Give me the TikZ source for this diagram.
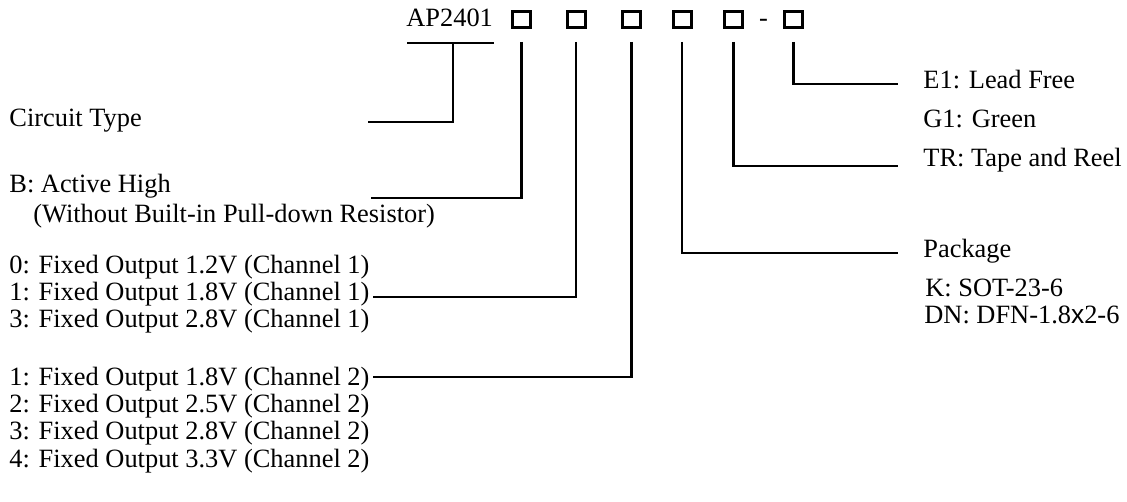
\documentclass[tikz,border=0pt]{standalone}
\usepackage{fontspec}
\setmainfont{Liberation Serif}
\setsansfont{Liberation Sans}
\begin{document}
\begin{tikzpicture}[x=0.5pt, y=-0.5pt,
		txt/.style={anchor=base west, inner sep=0pt, font=\fontsize{13.2}{15}\selectfont},
		digit/.style={draw, line width=1.5pt, minimum width=9pt, minimum height=8pt, inner sep=0pt},
		lead/.style={line width=1.3pt}]
			\useasboundingbox (0,0) rectangle (1127,502);
			% Part number with code boxes
			\node[txt] (ap) at (406,27) {AP2401};
			\foreach \n/\xx in {1/521.5, 2/576, 3/631.5, 4/682, 5/733.5, 6/793.5}
			\node[digit] (b\n) at (\xx,19.5) {};
			\node[txt, anchor=base] (dash) at (763.5,27) {-};
			
			% Level where the lead lines start
			\coordinate (top) at (0,42);
			\coordinate (apl) at (407,43);
			\coordinate (apr) at (494,43);
			\coordinate (apm) at (453,43);
			
			% Free ends of the lead lines
			\coordinate (ctend) at (368,122);
			\coordinate (bend) at (371,198);
			\coordinate (ch1end) at (373,297);
			\coordinate (ch2end) at (373,377);
			\coordinate (pkgend) at (898,253);
			\coordinate (trend) at (898,166);
			\coordinate (e1end) at (898,84);
			
			\draw[lead] (apl) -- (apr);
			\draw[lead] (apm) |- (ctend);
			\draw[lead] (b1 |- top) |- (bend);
			\draw[lead] (b2 |- top) |- (ch1end);
			\draw[lead] (b3 |- top) |- (ch2end);
			\draw[lead] (b4 |- top) |- (pkgend);
			\draw[lead] (b5 |- top) |- (trend);
			\draw[lead] (b6 |- top) |- (e1end);
			
			% Left column
			\node[txt] (ct) at (9,127) {Circuit Type};
			\node[txt] (typb) at (9,192) {B: Active High};
			\node[txt] (typbb) at (33,222) {(Without Built-in Pull-down Resistor)};
			\node[txt] (chaa) at (9,273) {0: Fixed Output 1.2V (Channel 1)};
			\node[txt] (chab) at (9,300) {1: Fixed Output 1.8V (Channel 1)};
			\node[txt] (chac) at (9,327) {3: Fixed Output 2.8V (Channel 1)};
			\node[txt] (chba) at (9,385) {1: Fixed Output 1.8V (Channel 2)};
			\node[txt] (chbb) at (9,412) {2: Fixed Output 2.5V (Channel 2)};
			\node[txt] (chbc) at (9,439) {3: Fixed Output 2.8V (Channel 2)};
			\node[txt] (chbd) at (9,467) {4: Fixed Output 3.3V (Channel 2)};
			
			% Right column
			\node[txt] (e1) at (923,89) {E1: Lead Free};
			\node[txt] (g1) at (923,128) {G1: Green};
			\node[txt] (tr) at (923,167) {TR: Tape and Reel};
			\node[txt] (pkg) at (923,257) {Package};
			\node[txt] (k) at (925,296) {K: SOT-23-6};
			\node[txt] (dn) at (924,323) {DN: DFN-1.8{\sffamily x}2-6};
			
		\end{tikzpicture}
\end{document}
